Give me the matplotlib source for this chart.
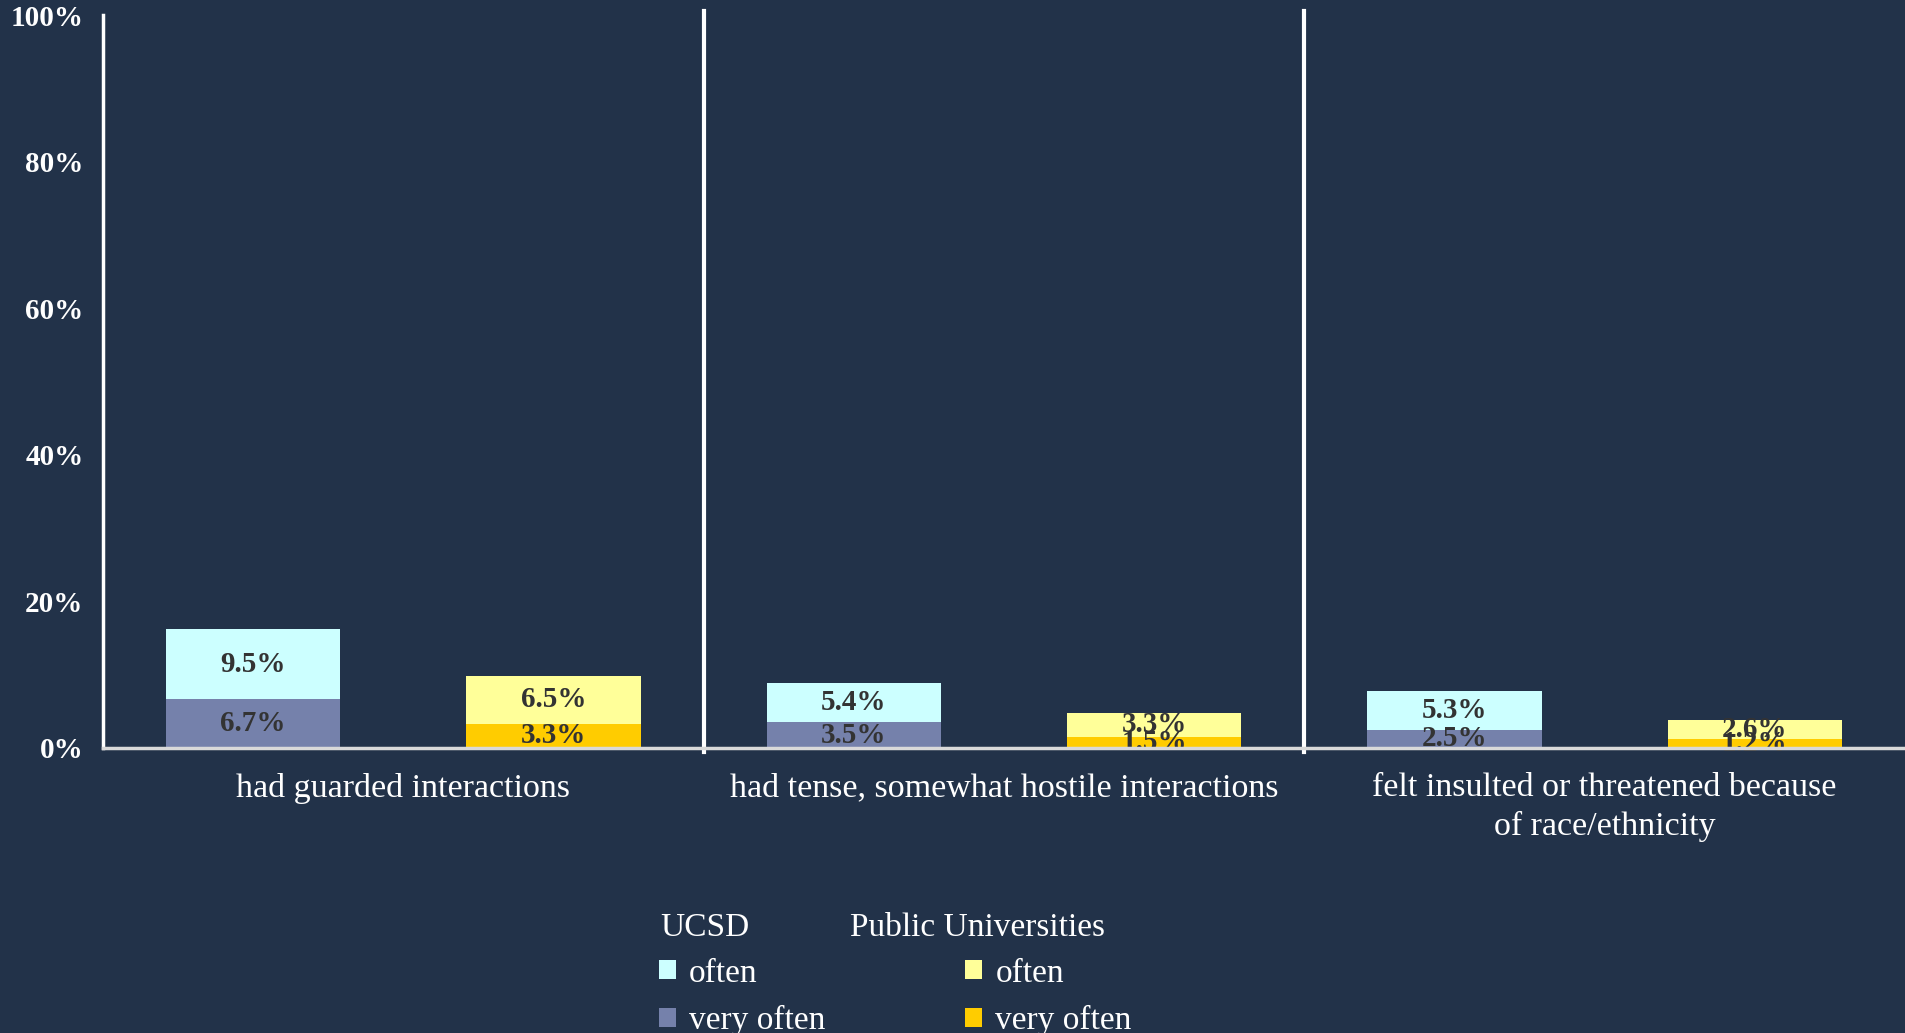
import numpy as np
import matplotlib
matplotlib.use('Agg')
import matplotlib.pyplot as plt
from matplotlib.patches import Patch

plt.rcParams['font.family'] = ['Liberation Serif', 'DejaVu Serif']

BG = '#223249'

categories = ['had guarded interactions',
              'had tense, somewhat hostile interactions',
              'felt insulted or threatened because\nof race/ethnicity']
ucsd_very_often = [6.7, 3.5, 2.5]
ucsd_often = [9.5, 5.4, 5.3]
public_very_often = [3.3, 1.5, 1.2]
public_often = [6.5, 3.3, 2.6]
y_ticks = [0, 20, 40, 60, 80, 100]

fig = plt.figure(figsize=(19.05, 10.33), dpi=100, facecolor=BG)
ax = fig.add_axes([103 / 1905, 1 - 748 / 1033, 1 - 103 / 1905, (748 - 15) / 1033])
ax.set_facecolor(BG)

x = np.arange(len(categories))
w = 0.29
off = 0.25

bars = [
    (x - off, ucsd_very_often, None, '#7581AB'),
    (x - off, ucsd_often, ucsd_very_often, '#CCFFFF'),
    (x + off, public_very_often, None, '#FFCC00'),
    (x + off, public_often, public_very_often, '#FFFF99'),
]
for xs, vals, base, col in bars:
    b = np.zeros(len(vals)) if base is None else np.array(base)
    rects = ax.bar(xs, vals, w, bottom=b, color=col, edgecolor='none', zorder=2)
    ax.bar_label(rects, labels=[f'{v:.1f}%' for v in vals], label_type='center',
                 fontsize=21, fontweight='bold', color='#333333', zorder=3)

for sx in [0.5, 1.5]:
    ax.axvline(sx, ymin=-0.005, ymax=1.005, color='white', lw=3, clip_on=False, zorder=4)

ax.set_xlim(-0.5, 2.5)
ax.set_ylim(0, 100)
ax.set_yticks(y_ticks)
ax.set_yticklabels([f'{t}%' for t in y_ticks], fontsize=21, fontweight='bold', color='white')
ax.tick_params(axis='y', length=0, pad=14)
ax.set_xticks(x)
ax.set_xticklabels(categories, fontsize=24.5, color='white', linespacing=1.3)
ax.tick_params(axis='x', length=0, pad=18)

for s in ['top', 'right']:
    ax.spines[s].set_visible(False)
ax.spines['left'].set_color('white')
ax.spines['left'].set_linewidth(2.5)
ax.spines['bottom'].set_color('#D9D9D9')
ax.spines['bottom'].set_linewidth(2.5)
ax.spines['bottom'].set_zorder(5)

fig.text(660 / 1905, 1 - 928 / 1033, 'UCSD', fontsize=24, color='white', va='center', ha='left')
fig.text(850 / 1905, 1 - 928 / 1033, 'Public Universities', fontsize=24, color='white', va='center', ha='left')

handles = [Patch(facecolor='#CCFFFF'), Patch(facecolor='#7581AB'),
           Patch(facecolor='#FFFF99'), Patch(facecolor='#FFCC00')]
labels = ['often', 'very often', 'often', 'very often']
leg = fig.legend(handles, labels, ncol=2, loc='upper left',
                 bbox_to_anchor=(659 / 1905, 1 - 958 / 1033),
                 frameon=False, fontsize=24, labelcolor='white',
                 handlelength=0.5, handleheight=0.5, handletextpad=0.4,
                 columnspacing=4.2, labelspacing=0.5, borderpad=0, borderaxespad=0)

fig.savefig('out.png', dpi=100, facecolor=BG)
